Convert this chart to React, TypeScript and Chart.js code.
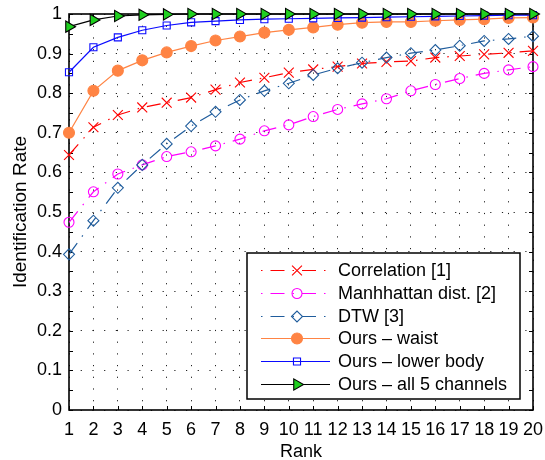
import React, { useEffect, useRef } from 'react';
import { Chart, registerables } from 'chart.js';
import { drawPoint } from 'chart.js/helpers';

Chart.register(...registerables);

const ranks = ['1','2','3','4','5','6','7','8','9','10','11','12','13','14','15','16','17','18','19','20'];
const correlation = [0.644,0.714,0.745,0.764,0.776,0.789,0.809,0.827,0.839,0.852,0.860,0.867,0.875,0.879,0.881,0.890,0.894,0.898,0.902,0.907];
const manhattan = [0.474,0.551,0.596,0.619,0.640,0.652,0.667,0.684,0.705,0.720,0.741,0.759,0.773,0.786,0.806,0.822,0.837,0.850,0.859,0.867];
const dtw = [0.393,0.478,0.561,0.619,0.672,0.717,0.753,0.783,0.806,0.825,0.846,0.863,0.877,0.890,0.901,0.909,0.920,0.932,0.937,0.944];
const waist = [0.700,0.806,0.857,0.883,0.903,0.919,0.933,0.943,0.953,0.960,0.966,0.973,0.978,0.980,0.980,0.983,0.985,0.987,0.990,0.991];
const lowerBody = [0.853,0.916,0.941,0.959,0.971,0.979,0.982,0.985,0.987,0.988,0.989,0.990,0.991,0.992,0.993,0.994,0.995,0.996,0.997,0.997];
const allChannels = [0.968,0.985,0.995,0.998,0.999,1,1,1,1,1,1,1,1,1,1,1,1,1,1,1];
const yTicks = [0,0.1,0.2,0.3,0.4,0.5,0.6,0.7,0.8,0.9,1];

const FONT = '"Liberation Sans", Arial, Helvetica, sans-serif';
const DASHDOT = [14, 8, 1.5, 8];

const axesPlugin = {
  id: 'matlabAxes',
  beforeDatasetsDraw(chart: any) {
    const { ctx, chartArea: a, scales } = chart;
    const xs = scales.x, ys = scales.y;
    ctx.save();
    ctx.strokeStyle = '#000';
    ctx.lineWidth = 1;
    const L = 4;
    ctx.beginPath();
    for (let i = 0; i < ranks.length; i++) {
      const x = Math.round(xs.getPixelForValue(i)) + 0.5;
      ctx.moveTo(x, a.bottom); ctx.lineTo(x, a.bottom - L);
      ctx.moveTo(x, a.top); ctx.lineTo(x, a.top + L);
    }
    for (let k = 0; k <= 20; k++) {
      const y = Math.round(ys.getPixelForValue(k * 0.05)) + 0.5;
      ctx.moveTo(a.left, y); ctx.lineTo(a.left + L, y);
      ctx.moveTo(a.right, y); ctx.lineTo(a.right - L, y);
    }
    ctx.stroke();
    ctx.lineWidth = 1.6;
    ctx.strokeRect(a.left, a.top, a.right - a.left, a.bottom - a.top);
    ctx.restore();
  },
};

const legendPlugin = {
  id: 'matlabLegend',
  afterDraw(chart: any) {
    const { ctx, chartArea: a } = chart;
    const boxW = 273, boxH = 146;
    const right = a.right - 13;
    const bottom = a.bottom - 11;
    const left = right - boxW, top = bottom - boxH;
    ctx.save();
    ctx.fillStyle = '#fff';
    ctx.fillRect(left, top, boxW, boxH);
    ctx.strokeStyle = '#000';
    ctx.lineWidth = 1.5;
    ctx.strokeRect(left, top, boxW, boxH);
    chart.data.datasets.forEach((ds: any, i: number) => {
      const y = Math.round(top + 17 + i * 22.8) + 0.5;
      ctx.setLineDash(ds.borderDash || []);
      ctx.lineDashOffset = ds.borderDash ? 22 : 0;
      ctx.strokeStyle = ds.borderColor;
      ctx.lineWidth = ds.borderWidth;
      ctx.beginPath();
      ctx.moveTo(left + 14, y);
      ctx.lineTo(left + 83, y);
      ctx.stroke();
      ctx.setLineDash([]);
      ctx.lineDashOffset = 0;
      ctx.fillStyle = ds.pointBackgroundColor;
      ctx.strokeStyle = ds.pointBorderColor;
      ctx.lineWidth = ds.pointBorderWidth;
      drawPoint(ctx, { pointStyle: ds.pointStyle, radius: ds.pointRadius, rotation: ds.pointRotation || 0, borderWidth: ds.pointBorderWidth } as any, left + 50, y);
      ctx.fillStyle = '#000';
      ctx.font = '18px ' + FONT;
      ctx.textBaseline = 'middle';
      ctx.textAlign = 'left';
      ctx.fillText(ds.label, left + 91, y + 1);
    });
    ctx.restore();
  },
};

export default function App() {
  const ref = useRef<HTMLCanvasElement>(null);
  useEffect(() => {
    if (!ref.current) return;
    const mk = (label: string, data: number[], color: string, style: any, radius: number, fill: string, dash: number[] | undefined, order: number, rotation = 0, pBorder?: string) => ({
      label, data,
      borderColor: color,
      borderWidth: 1.2,
      borderDash: dash,
      pointStyle: style,
      pointRadius: radius,
      pointRotation: rotation,
      pointBackgroundColor: fill,
      pointBorderColor: pBorder || color,
      pointBorderWidth: 1.1,
      pointHoverRadius: radius,
      tension: 0,
      fill: false,
      clip: false,
      order,
    });
    const chart = new Chart(ref.current, {
      type: 'line',
      data: {
        labels: ranks,
        datasets: [
          mk('Correlation [1]', correlation, '#ff0000', 'crossRot', 7, 'rgba(0,0,0,0)', DASHDOT, 6),
          mk('Manhhattan dist. [2]', manhattan, '#ff00ff', 'circle', 5, 'rgba(0,0,0,0)', DASHDOT, 5),
          mk('DTW [3]', dtw, '#1f5c9c', 'rectRot', 5.5, 'rgba(0,0,0,0)', DASHDOT, 4),
          mk('Ours \u2013 waist', waist, '#ff8444', 'circle', 5.5, '#ff8444', undefined, 3),
          mk('Ours \u2013 lower body', lowerBody, '#0a0aff', 'rect', 5, 'rgba(0,0,0,0)', undefined, 2),
          mk('Ours \u2013 all 5 channels', allChannels, '#000000', 'triangle', 6.5, '#1fd01f', undefined, 1, 90, '#000000'),
        ],
      },
      options: {
        responsive: false,
        animation: false,
        layout: { padding: { top: 14, right: 12, left: 0, bottom: 0 } },
        plugins: { legend: { display: false }, tooltip: { enabled: false } },
        scales: {
          x: {
            type: 'category',
            offset: false,
            grid: { display: true, color: '#222', lineWidth: 1, drawTicks: false },
            border: { display: false, dash: [1.2, 10.5] },
            ticks: { color: '#000', font: { family: FONT, size: 18 }, padding: 9, maxRotation: 0, autoSkip: false },
            title: { display: true, text: 'Rank', color: '#000', font: { family: FONT, size: 18, lineHeight: 0.9 }, padding: { top: 0, bottom: 0 } },
            afterFit: (s: any) => { s.height = 50; s.paddingLeft = 0; s.paddingRight = 0; },
          },
          y: {
            type: 'linear',
            min: 0,
            max: 1,
            afterBuildTicks: (s: any) => { s.ticks = yTicks.map((v) => ({ value: v })); },
            grid: { display: true, color: '#222', lineWidth: 1, drawTicks: false },
            border: { display: false, dash: [1.2, 10.5] },
            ticks: { color: '#000', font: { family: FONT, size: 18 }, padding: 7, callback: (v: any) => String(+Number(v).toFixed(1)) },
            title: { display: true, text: 'Identification Rate', color: '#000', font: { family: FONT, size: 19 }, padding: { top: 9, bottom: 0 } },
            afterFit: (s: any) => { s.width = 69; s.paddingTop = 0; s.paddingBottom = 0; },
          },
        },
      },
      plugins: [axesPlugin, legendPlugin],
    });
    return () => chart.destroy();
  }, []);
  return (
    <div style={{ position: 'absolute', left: 0, top: 0, width: 545, height: 460, background: '#fff' }}>
      <canvas ref={ref} width={545} height={460} />
    </div>
  );
}
